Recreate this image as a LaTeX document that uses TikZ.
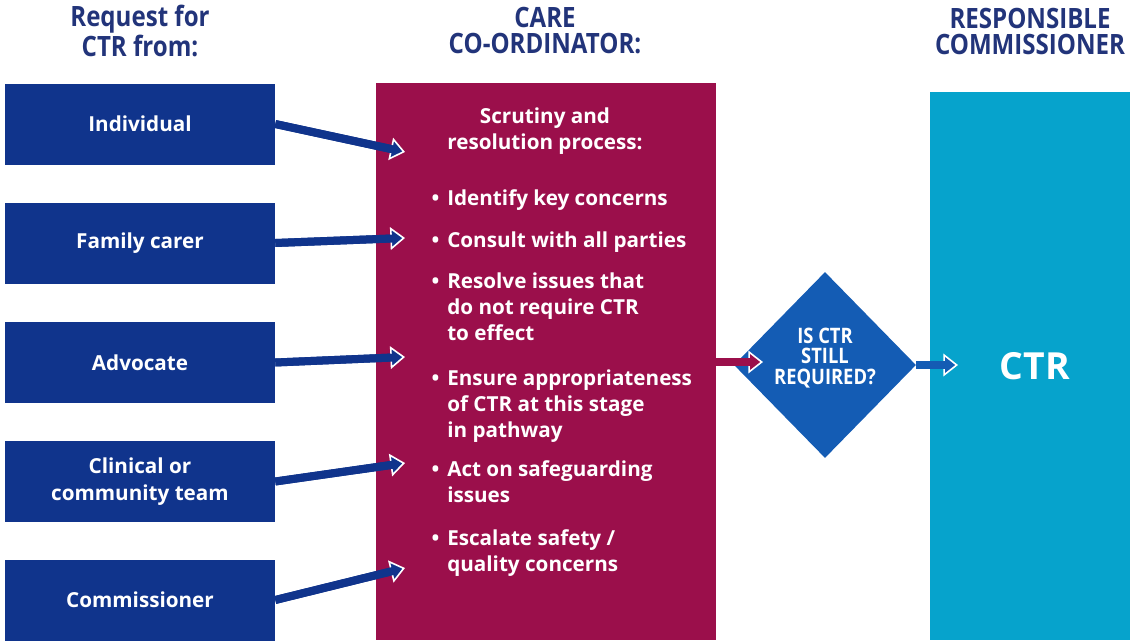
\documentclass[tikz,border=0pt]{standalone}
\usepackage{fontspec}
\setmainfont{Open Sans}
\newfontfamily\headfont{Open Sans}[FakeStretch=0.86]
\usetikzlibrary{arrows.meta,shapes.geometric}

\definecolor{navybox}{RGB}{16,52,140}
\definecolor{headnavy}{RGB}{34,52,122}
\definecolor{crimson}{RGB}{155,15,75}
\definecolor{ctrcyan}{RGB}{6,163,204}
\definecolor{diablue}{RGB}{20,92,180}

\begin{document}
\begin{tikzpicture}[x=0.75pt,y=-0.75pt,
  every node/.style={inner sep=0pt,font=\bfseries},
  header/.style={text=headnavy,align=center,font=\headfont\bfseries\fontsize{21}{19.5}\selectfont},
  source/.style={fill=navybox,text=white,minimum width=202.5pt,minimum height=60.75pt,
    align=center,font=\bfseries\fontsize{15.5}{20}\selectfont},
  item/.style={anchor=base west,text=white,align=left,font=\bfseries\fontsize{15.5}{19.5}\selectfont},
  feed/.style={draw=navybox,line width=6pt,
    -{Triangle[width=17pt,length=11pt,line width=1.2pt 0,color=white,fill=navybox]}},
  feedfix/.style={draw=navybox,line width=6pt,shorten >=8pt}]
\useasboundingbox (0,0) rectangle (1130,642);

% column headings
\node[header] (h1) at (140,31) {Request for\\CTR from:};
\node[header] (h2) at (545,31) {CARE\\CO-ORDINATOR:};
\node[header] (h3) at (1030,31) {RESPONSIBLE\\COMMISSIONER};

% who asks for the CTR
\node[source] (ind) at (140,124) {Individual};
\node[source] (fam) at (140,243) {Family carer};
\node[source] (adv) at (140,362.5) {Advocate};
\node[source] (cli) at (140,481.5) {Clinical or\\community team};
\node[source] (com) at (140,600) {Commissioner};

% care co-ordinator column
\node[fill=crimson,minimum width=255pt,minimum height=417.75pt] (cc) at (546,361.5) {};
\node[text=white,align=center,font=\bfseries\fontsize{15.5}{19.5}\selectfont] (scr) at (545,131)
  {Scrutiny and\\resolution process:};
% base = last line of each item
\node[item] (b1) at (447,205) {\llap{\textbullet\hspace{6pt}}Identify key concerns};
\node[item] (b2) at (447,247) {\llap{\textbullet\hspace{6pt}}Consult with all parties};
\node[item] (b3) at (447,340) {\llap{\textbullet\hspace{6pt}}Resolve issues that\\do not require CTR\\to effect};
\node[item] (b4) at (447,437) {\llap{\textbullet\hspace{6pt}}Ensure appropriateness\\of CTR at this stage\\in pathway};
\node[item] (b5) at (447,502) {\llap{\textbullet\hspace{6pt}}Act on safeguarding\\issues};
\node[item] (b6) at (447,571) {\llap{\textbullet\hspace{6pt}}Escalate safety /\\quality concerns};

% responsible commissioner column
\node[fill=ctrcyan,minimum width=150pt,minimum height=411pt] (rc) at (1030,366) {};
\node[text=white,font=\bfseries\fontsize{28}{30}\selectfont] (ctr) at (1035,366) {CTR};

\node[diamond,fill=diablue,minimum width=136.5pt,minimum height=139.5pt] (dia) at (825,365) {};
\node[text=white,align=center,font=\headfont\bfseries\fontsize{16}{15.5}\selectfont] (dq)
  at (825,358) {IS CTR\\STILL\\REQUIRED?};

\coordinate (a1) at (405,152);
\coordinate (a2) at (405,238);
\coordinate (a3) at (405,357);
\coordinate (a4) at (405,463);
\coordinate (a5) at (405,568);
\coordinate (a6) at (763,362);
\coordinate (a7) at (958,365);

\foreach \s/\t in {ind/a1,fam/a2,adv/a3,cli/a4,com/a5}{
  \draw[feed] (\s.east) -- (\t);
  \draw[feedfix] (\s.east) -- (\t);
}
\draw[feed,draw=crimson,-{Triangle[width=17pt,length=11pt,line width=1.2pt 0,color=white,fill=crimson]}]
  (cc.east |- a6) -- (a6);
\draw[feedfix,draw=crimson] (cc.east |- a6) -- (a6);
\draw[feed,draw=diablue,-{Triangle[width=17pt,length=11pt,line width=1.2pt 0,color=white,fill=diablue]}]
  (dia.east) -- (a7);
\draw[feedfix,draw=diablue] (dia.east) -- (a7);
\end{tikzpicture}
\end{document}
